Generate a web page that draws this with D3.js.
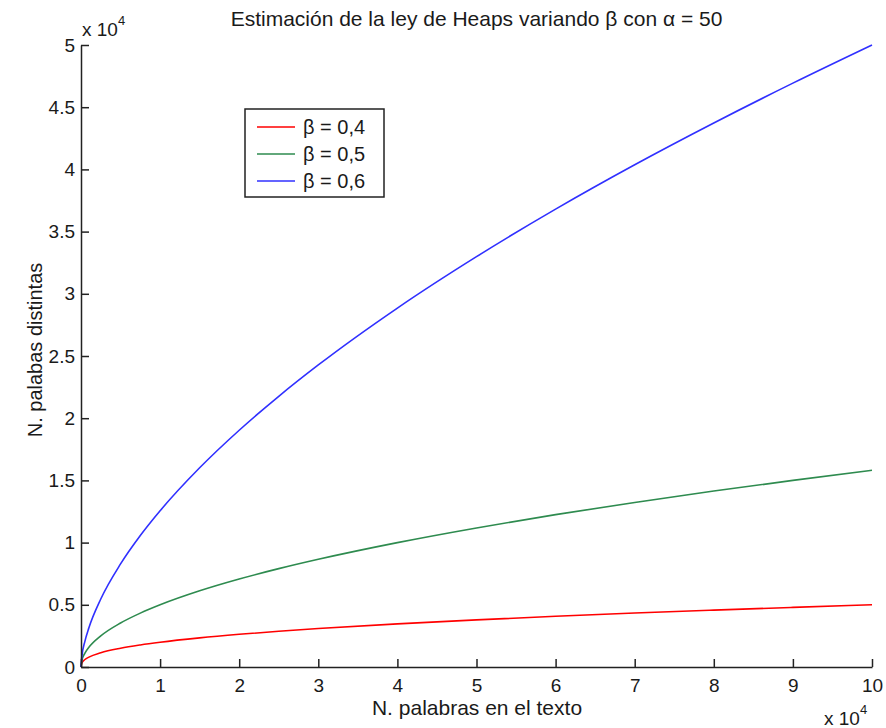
<!DOCTYPE html>
<html>
<head>
<meta charset="utf-8">
<script src="https://cdn.jsdelivr.net/npm/d3@7"></script>
<style>
  html, body { margin: 0; padding: 0; background: #fff; }
  svg { display: block; font-family: 'Liberation Sans', Arial, sans-serif; }
</style>
</head>
<body>
<div id="chart"></div>
<script>
// Values (words in text vs distinct words)
const xValues = [0, 100, 500, 1000, 2500, 5000, 7500, 10000, 15000, 20000, 25000, 30000,
  40000, 50000, 60000, 70000, 80000, 90000, 100000];
const beta04 = [0, 316, 601, 792, 1143, 1509, 1774, 1991, 2341, 2627, 2872, 3089,
  3466, 3789, 4075, 4335, 4573, 4794, 5000];
const beta05 = [0, 500, 1118, 1581, 2500, 3536, 4330, 5000, 6124, 7071, 7906, 8660,
  10000, 11180, 12247, 13229, 14142, 15000, 15811];
const beta06 = [0, 792, 2081, 3155, 5466, 8284, 10568, 12559, 16014, 19033, 21762, 24280,
  28855, 32988, 36806, 40372, 43730, 46933, 50000];

const seriesNames = ['β = 0,4', 'β = 0,5', 'β = 0,6'];
const seriesColors = ['#ff0000', '#2e8b4f', '#3030ff'];
const xTicks = d3.range(0, 100001, 10000);
const yTicks = d3.range(0, 50001, 5000);

const W = 886, H = 728;
const margin = { top: 45, right: 14, bottom: 61, left: 81 };
const width = W - margin.left - margin.right;
const height = H - margin.top - margin.bottom;

const svg = d3.select('#chart').append('svg')
  .attr('width', W).attr('height', H);
const g = svg.append('g').attr('transform', `translate(${margin.left},${margin.top})`);

const x = d3.scaleLinear().domain([0, 100000]).range([0, width]);
const y = d3.scaleLinear().domain([0, 50000]).range([height, 0]);

// Lines
const series = [beta04, beta05, beta06];
const lineGen = d3.line()
  .x((d, i) => x(xValues[i]))
  .y((d) => y(d))
  .curve(d3.curveMonotoneX);

series.forEach((vals, i) => {
  g.append('path')
    .datum(vals)
    .attr('d', lineGen)
    .attr('fill', 'none')
    .attr('stroke', seriesColors[i])
    .attr('stroke-width', 1.6);
});

// Axes (matlab style: ticks inward)
const tickFmt = (d) => String(d / 10000);
const xAxis = d3.axisBottom(x).tickValues(xTicks).tickSizeInner(-8).tickSizeOuter(0)
  .tickPadding(12).tickFormat(tickFmt);
const yAxis = d3.axisLeft(y).tickValues(yTicks).tickSizeInner(-8).tickSizeOuter(0)
  .tickPadding(6).tickFormat(tickFmt);

const styleAxis = (sel) => {
  sel.select('.domain').attr('stroke', '#222').attr('stroke-width', 1.5);
  sel.selectAll('.tick line').attr('stroke', '#222').attr('stroke-width', 1.5);
  sel.selectAll('text').attr('fill', '#1a1a1a').attr('font-size', 19)
    .attr('font-family', "'Liberation Sans', Arial, sans-serif");
};

g.append('g').attr('transform', `translate(0,${height})`).call(xAxis).call(styleAxis);
g.append('g').call(yAxis).call(styleAxis);

// Exponent labels
const expLabel = (px, py) => {
  const t = svg.append('text').attr('x', px).attr('y', py)
    .attr('font-size', 19).attr('fill', '#1a1a1a');
  t.append('tspan').text('x 10');
  t.append('tspan').attr('dy', -11).attr('font-size', 13).text('4');
};
expLabel(82, 36);
expLabel(824, 725);

// Title
svg.append('text')
  .attr('x', margin.left + width / 2).attr('y', 26)
  .attr('text-anchor', 'middle')
  .attr('font-size', 21).attr('fill', '#1a1a1a')
  .text('Estimación de la ley de Heaps variando β con α = 50');

// Axis labels
svg.append('text')
  .attr('x', 477).attr('y', 715)
  .attr('text-anchor', 'middle')
  .attr('font-size', 21).attr('fill', '#1a1a1a')
  .text('N. palabras en el texto');

svg.append('text')
  .attr('transform', 'translate(42,350) rotate(-90)')
  .attr('text-anchor', 'middle')
  .attr('font-size', 20).attr('fill', '#1a1a1a')
  .text('N. palabas distintas');

// Legend
const legend = svg.append('g').attr('transform', 'translate(245,109)');
legend.append('rect')
  .attr('width', 139).attr('height', 88)
  .attr('fill', '#fff').attr('stroke', '#222').attr('stroke-width', 1.5);
seriesNames.forEach((name, i) => {
  const yy = 18 + i * 27;
  legend.append('line')
    .attr('x1', 12).attr('x2', 50).attr('y1', yy).attr('y2', yy)
    .attr('stroke', seriesColors[i]).attr('stroke-width', 1.6);
  legend.append('text')
    .attr('x', 58).attr('y', yy + 7)
    .attr('font-size', 20).attr('fill', '#1a1a1a')
    .text(name);
});
</script>
</body>
</html>
